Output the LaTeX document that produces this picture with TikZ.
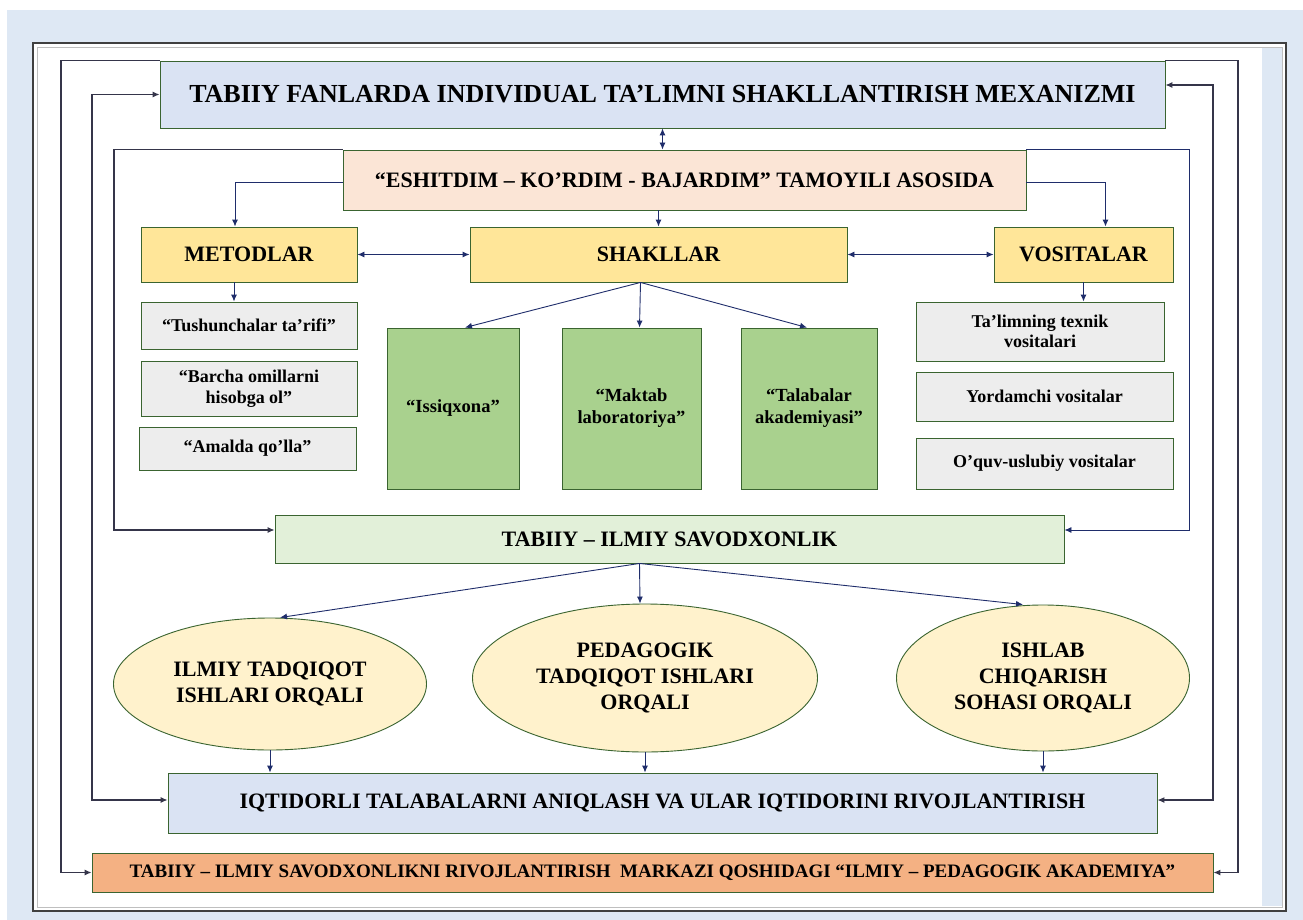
\documentclass[tikz,border=0pt]{standalone}
\usepackage{fontspec}
\setmainfont{Liberation Serif}
\usepackage{xcolor}
\usetikzlibrary{positioning, arrows.meta, shapes.geometric}

\definecolor{pagebg}{HTML}{DEE8F4}
\definecolor{frameline}{HTML}{404040}
\definecolor{boxline}{HTML}{3A6430}
\definecolor{linkblue}{HTML}{1F2D6B}
\definecolor{loopgray}{HTML}{35354A}
\definecolor{titlefill}{HTML}{DAE3F3}
\definecolor{peachfill}{HTML}{FBE5D6}
\definecolor{yellowfill}{HTML}{FFE699}
\definecolor{grayfill}{HTML}{EDEDED}
\definecolor{greenfill}{HTML}{A9D18E}
\definecolor{mintfill}{HTML}{E2F0D9}
\definecolor{creamfill}{HTML}{FFF2CC}
\definecolor{orangefill}{HTML}{F4B183}

\begin{document}
\begin{tikzpicture}[
    x=1pt, y=-1pt,
    box/.style={rectangle, draw=boxline, line width=0.9pt, align=center, inner sep=2pt},
    head/.style={box, font=\fontsize{26}{29}\selectfont\bfseries},
    group/.style={box, fill=yellowfill, minimum height=55pt, font=\fontsize{22}{25}\selectfont\bfseries},
    item/.style={box, fill=grayfill, font=\fontsize{18}{20.5}\selectfont\bfseries},
    form/.style={box, fill=greenfill, minimum height=161pt, font=\fontsize{18.5}{22}\selectfont\bfseries},
    way/.style={ellipse, draw=boxline, line width=0.9pt, fill=creamfill, align=center, inner sep=0pt, font=\fontsize{22}{26}\selectfont\bfseries},
    link/.style={draw=linkblue, line width=0.9pt, -{Latex[length=7pt,width=6pt]}},
    loop/.style={draw=loopgray, line width=1.1pt, -{Latex[length=7pt,width=6pt]}},
    both/.style={{Latex[length=7pt,width=6pt]}-{Latex[length=7pt,width=6pt]}}
]
    % Page and frame
    \useasboundingbox (0,0) rectangle (1303,920);
    \fill[pagebg] (7,10) rectangle (1303,920);
    \draw[frameline, fill=white, line width=1.5pt] (33,43) rectangle (1286,911);
    \draw[gray!50, line width=0.6pt] (37,47) rectangle (1282,907);
    \fill[pagebg] (1262,48) rectangle (1282,906);

    % Top and principle
    \node[head, fill=titlefill, minimum width=1005pt, minimum height=67pt] (title) at (662.5,94.5)
        {TABIIY FANLARDA INDIVIDUAL TA’LIMNI SHAKLLANTIRISH MEXANIZMI};
    \node[box, fill=peachfill, minimum width=683pt, minimum height=60pt, font=\fontsize{22}{25}\selectfont\bfseries] (eshit) at (684.5,180)
        {“ESHITDIM – KO’RDIM - BAJARDIM” TAMOYILI ASOSIDA};

    % Methods, forms, tools
    \node[group, minimum width=216pt] (metod) at (249,254.5) {METODLAR};
    \node[group, minimum width=377pt] (shakl) at (658.5,254.5) {SHAKLLAR};
    \node[group, minimum width=179pt] (vosit) at (1083.5,254.5) {VOSITALAR};

    \node[item, minimum width=216pt, minimum height=47pt] (m1) at (249,325.5) {“Tushunchalar ta’rifi”};
    \node[item, minimum width=216pt, minimum height=55pt] (m2) at (249,388.5) {“Barcha omillarni\\hisobga ol”};
    \node[item, minimum width=217pt, minimum height=43pt] (m3) at (247.5,448.5) {“Amalda qo’lla”};

    \node[form, minimum width=132pt] (s1) at (453,408.5) {“Issiqxona”};
    \node[form, minimum width=139pt] (s2) at (631.5,408.5) {“Maktab\\laboratoriya”};
    \node[form, minimum width=136pt] (s3) at (809,408.5) {“Talabalar\\akademiyasi”};

    \node[item, minimum width=248pt, minimum height=59pt] (v1) at (1040,331.5) {Ta’limning texnik\\vositalari};
    \node[item, minimum width=257pt, minimum height=49pt] (v2) at (1044.5,396.5) {Yordamchi vositalar};
    \node[item, minimum width=257pt, minimum height=51pt] (v3) at (1044.5,463.5) {O’quv-uslubiy vositalar};

    % Literacy and ways
    \node[box, fill=mintfill, minimum width=789pt, minimum height=48pt, font=\fontsize{22}{25}\selectfont\bfseries] (savod) at (669.5,539)
        {TABIIY – ILMIY SAVODXONLIK};

    \node[way, minimum width=313pt, minimum height=132pt] (e1) at (270,684) {ILMIY TADQIQOT\\ISHLARI ORQALI};
    \node[way, minimum width=345pt, minimum height=148pt] (e2) at (645,678) {PEDAGOGIK\\TADQIQOT ISHLARI\\ORQALI};
    \node[way, minimum width=293pt, minimum height=146pt] (e3) at (1043,678) {ISHLAB\\CHIQARISH\\SOHASI ORQALI};

    % Results
    \node[box, fill=titlefill, minimum width=989pt, minimum height=60pt, font=\fontsize{22}{25}\selectfont\bfseries] (iqtid) at (662.5,803)
        {IQTIDORLI TALABALARNI ANIQLASH VA ULAR IQTIDORINI RIVOJLANTIRISH};
    \node[box, fill=orangefill, minimum width=1121pt, minimum height=39pt, font=\fontsize{19}{22}\selectfont\bfseries] (akad) at (652.5,872.5)
        {TABIIY – ILMIY SAVODXONLIKNI RIVOJLANTIRISH\ \ MARKAZI QOSHIDAGI “ILMIY – PEDAGOGIK AKADEMIYA”};

    % Loop columns and ends
    \coordinate (L1) at (61,0);
    \coordinate (L2) at (92,0);
    \coordinate (L3) at (114,0);
    \coordinate (R1) at (1238,0);
    \coordinate (R2) at (1213,0);
    \coordinate (R3) at (1189,0);
    \coordinate (tE) at ([yshift=9.5pt]title.east);
    \coordinate (iW) at ([yshift=3pt]iqtid.west);
    \coordinate (iE) at ([yshift=3pt]iqtid.east);
    \coordinate (sW) at ([yshift=9pt]savod.west);
    \coordinate (sE) at ([yshift=9pt]savod.east);

    % Outer loops
    \draw[loop] (title.north west) -- (title.north west -| L1) -- (L1 |- akad.west) -- (akad.west);
    \draw[loop] (title.north east) -- (title.north east -| R1) -- (R1 |- akad.east) -- (akad.east);
    \draw[loop, both] (title.west) -- (title.west -| L2) -- (L2 |- iW) -- (iW);
    \draw[loop, both] (tE) -- (tE -| R2) -- (R2 |- iE) -- (iE);
    \draw[loop] (eshit.north west) -- (eshit.north west -| L3) -- (L3 |- sW) -- (sW);
    \draw[link] (eshit.north east) -- (eshit.north east -| R3) -- (R3 |- sE) -- (sE);

    % Principle to groups
    \draw[link, both] (title.south) -- (title.south |- eshit.north);
    \draw[link] ([yshift=-2pt]eshit.west) -| ([xshift=-14pt]metod.north);
    \draw[link] ([yshift=-2pt]eshit.east) -| ([xshift=22pt]vosit.north);
    \draw[link] (shakl.north |- eshit.south) -- (shakl.north);
    \draw[link, both] (metod) -- (shakl);
    \draw[link, both] (shakl) -- (vosit);

    % Groups to items
    \coordinate (mk) at ([xshift=-15pt]metod.south);
    \draw[link] (mk) -- (mk |- m1.north);
    \draw[link] (vosit.south) -- (vosit.south |- v1.north);
    \coordinate (sk) at ([xshift=-18pt]shakl.south);
    \foreach \s/\dx in {s1/12, s2/8, s3/-2}
        \draw[link] (sk) -- ([xshift=\dx pt]\s.north);

    % Literacy to ways to results
    \coordinate (sv) at ([xshift=-30pt]savod.south);
    \foreach \e/\dx in {e1/10, e2/-5, e3/-20}
        \draw[link] (sv) -- ([xshift=\dx pt]\e.north);
    \foreach \e in {e1,e2,e3}
        \draw[link] (\e.south) -- (\e.south |- iqtid.north);
\end{tikzpicture}
\end{document}
